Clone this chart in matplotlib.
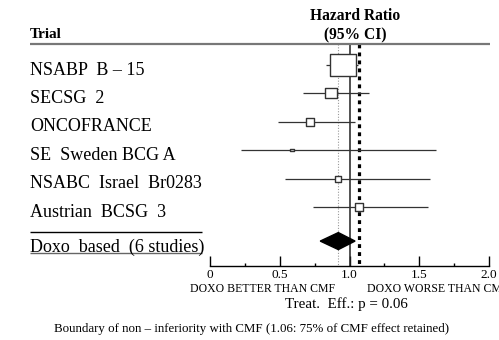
import numpy as np
import matplotlib
matplotlib.use('Agg')
import matplotlib.pyplot as plt
from matplotlib.path import Path

plt.rcParams['font.family'] = ['Liberation Serif', 'DejaVu Serif']

# datos
trials = ['NSABP  B – 15', 'SECSG  2', 'ONCOFRANCE', 'SE  Sweden BCG A',
          'NSABC  Israel  Br0283', 'Austrian  BCSG  3']
hr = [0.95, 0.87, 0.72, 0.59, 0.92, 1.07]
ci_low = [0.83, 0.67, 0.49, 0.22, 0.54, 0.74]
ci_high = [1.06, 1.14, 1.04, 1.62, 1.58, 1.56]
weights = [66.0, 14.6, 7.0, 1.1, 3.6, 7.4]  # peso (%) de cada estudio

pooled_label = 'Doxo  based  (6 studies)'
pooled_hr = 0.92
pooled_low = 0.79
pooled_high = 1.04
boundary = 1.07  # límite de no inferioridad

ticks_major = [0, 0.5, 1.0, 1.5, 2.0]
tick_labels = ['0', '0.5', '1.0', '1.5', '2.0']

# filas (en unidades de fila)
rows = np.arange(len(trials))
row_pooled = 6.2
y_rule = -0.74
y_base = 7.07

# escala: 139.5 px por unidad de HR, 28.4 px por fila
px_x = 139.5
px_y = 28.4
fig = plt.figure(figsize=(4.99, 3.40), dpi=100)
ax = fig.add_axes([0, 0, 1, 1])
ax.set_xlim(-210 / px_x, (499 - 210) / px_x)
ax.set_ylim((340 - 65) / px_y, -65 / px_y)
x_left = -180 / px_x  # borde izquierdo de las etiquetas

# lineas verticales de referencia
ax.vlines(pooled_hr, y_rule, y_base, colors='#999999', linestyles=(0, (1, 1.5)), lw=0.8)
ax.vlines(1.0, y_rule, y_base, colors='#222222', lw=1.1)
ax.vlines(boundary, y_rule, y_base, colors='black', linestyles=(0, (1.2, 1.3)), lw=2.3)

# intervalos de confianza
ax.hlines(rows, ci_low, ci_high, colors='#333333', lw=0.9)

# cajas (tamaño según el peso)
box = Path([(-1.2, -1), (1.2, -1), (1.2, 1), (-1.2, 1), (-1.2, -1)],
           [Path.MOVETO, Path.LINETO, Path.LINETO, Path.LINETO, Path.CLOSEPOLY])
for r, h, w in zip(rows, hr, weights):
    ax.plot(h, r, marker=box, markersize=2.3 * np.sqrt(w), mfc='white',
            mec='#333333', mew=1.0, ls='none', zorder=3)

# diamante del resultado combinado
dh = 0.3
ax.fill([pooled_low, pooled_hr, pooled_high, pooled_hr],
        [row_pooled, row_pooled - dh, row_pooled, row_pooled + dh],
        color='black', zorder=3)

# encabezado
ax.hlines(y_rule, x_left, 2.007, colors='#777777', lw=1.6)
ax.text(x_left, -0.96, 'Trial', fontsize=11, fontweight='bold', va='baseline')
ax.text(1.04, -1.58, 'Hazard Ratio', fontsize=11.2, fontweight='bold',
        ha='center', va='baseline')
ax.text(1.04, -0.91, '(95% CI)', fontsize=11.2, fontweight='bold',
        ha='center', va='baseline')

# etiquetas de los estudios
for r, name in zip(rows, trials):
    ax.text(x_left, r + 0.34, name, fontsize=13, va='baseline')
ax.hlines(5.88, x_left, -0.057, colors='black', lw=1.0)
ax.text(x_left, row_pooled + 0.37, pooled_label, fontsize=13, va='baseline')
ax.hlines(6.62, x_left, -0.057, colors='#666666', lw=1.0)

# eje x
for s in ['top', 'left', 'right']:
    ax.spines[s].set_visible(False)
ax.spines['bottom'].set_position(('data', y_base))
ax.spines['bottom'].set_bounds(0, 2)
ax.spines['bottom'].set_linewidth(1.0)
ax.set_xticks(ticks_major)
ax.set_xticklabels(tick_labels)
ax.set_xticks(np.arange(0.25, 2.0, 0.5), minor=True)
ax.tick_params(axis='x', which='major', direction='in', length=7, width=1.0,
               pad=2, labelsize=9.5)
ax.tick_params(axis='x', which='minor', direction='in', length=2.5, width=1.0)
ax.set_yticks([])

ax.text(0.38, 7.99, 'DOXO BETTER THAN CMF', fontsize=8.5, ha='center', va='baseline')
ax.text(1.125, 7.99, 'DOXO WORSE THAN CMF', fontsize=8.5, ha='left', va='baseline')
ax.text(0.975, 8.55, 'Treat.  Eff.: p = 0.06', fontsize=10.8, ha='center', va='baseline')
ax.text(0.30, 9.40,
        'Boundary of non – inferiority with CMF (1.06: 75% of CMF effect retained)',
        fontsize=9.3, ha='center', va='baseline')

fig.savefig('out.png', dpi=100)
